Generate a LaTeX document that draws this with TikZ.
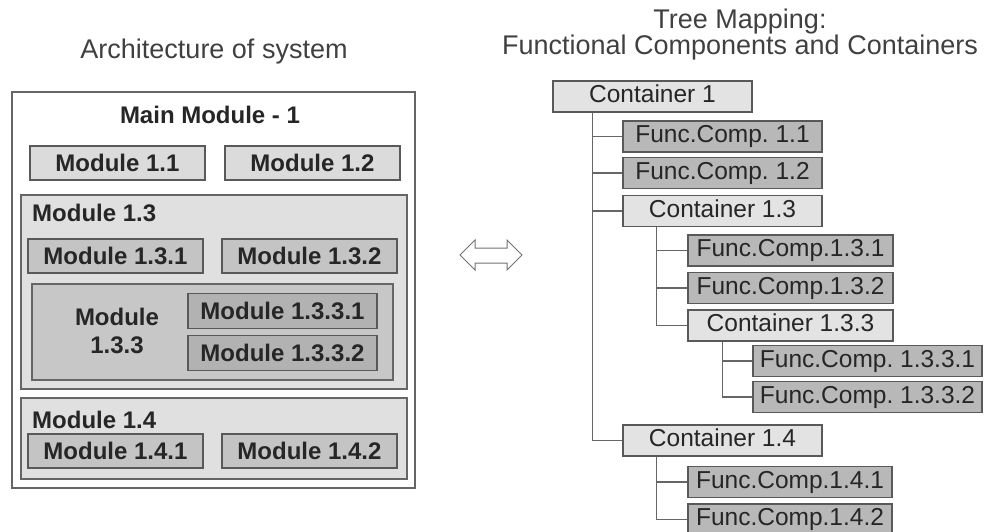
\documentclass[tikz,border=0pt]{standalone}
\usepackage{fontspec}
\setmainfont{Liberation Sans}
\frenchspacing
\begin{document}
\begin{tikzpicture}[x=1pt, y=-1pt,
        every node/.style={inner sep=0pt, text=black!85},
        title/.style={font=\fontsize{27}{26}\selectfont, text=black!75},
        bold/.style={font=\fontsize{24}{28}\selectfont\bfseries},
        group/.style={draw=black!60, line width=1.5pt, fill=black!12},
        mod/.style={draw=black!65, line width=1.5pt, bold, minimum width=175pt, minimum height=34pt},
        cont/.style={draw=black!65, line width=1.3pt, fill=black!11, minimum height=31pt,
            font=\fontsize{24.5}{28}\selectfont, text height=17pt, text depth=5pt},
        func/.style={cont, fill=black!28},
        link/.style={draw=black!60, line width=1.3pt}
    ]
    \useasboundingbox (0,0) rectangle (984,531);

    \node[title] (archtitle) at (214,52) {Architecture of system};
    \node[title, align=center] (treetitle) at (740,35) {Tree Mapping:\\Functional Components and Containers};

    \node[draw=black!60, line width=1.5pt, fill=white, minimum width=403pt, minimum height=396pt] (m1) at (213.5,290) {};
    \node[bold] (m1label) at (210,115) {Main Module - 1};
    \node[mod, fill=black!14] (m11) at (117.5,163) {Module 1.1};
    \node[mod, fill=black!14] (m12) at (312.5,163) {Module 1.2};

    \node[group, minimum width=386pt, minimum height=194pt] (m13) at (214,292) {};
    \node[bold, anchor=west] (m13label) at (32,213) {Module 1.3};
    \node[mod, fill=black!23] (m131) at (115.5,256) {Module 1.3.1};
    \node[mod, fill=black!23] (m132) at (309.5,256) {Module 1.3.2};
    \node[group, fill=black!22, minimum width=361pt, minimum height=96pt] (m133) at (212.5,332) {};
    \node[bold, align=center] (m133label) at (117,331) {Module\\1.3.3};
    \node[mod, fill=black!30, minimum width=189pt, minimum height=35pt] (m1331) at (282.5,311) {Module 1.3.3.1};
    \node[mod, fill=black!30, minimum width=189pt, minimum height=35pt] (m1332) at (282.5,353) {Module 1.3.3.2};

    \node[group, minimum width=386pt, minimum height=81pt] (m14) at (214,438.5) {};
    \node[bold, anchor=west] (m14label) at (32,420) {Module 1.4};
    \node[mod, fill=black!23] (m141) at (115.5,451) {Module 1.4.1};
    \node[mod, fill=black!23] (m142) at (309.5,451) {Module 1.4.2};

    \draw[draw=black!55, fill=white, line width=1pt]
        (460,255) -- (475,240) -- (475,248) -- (507,248) -- (507,240) -- (522,255)
        -- (507,270) -- (507,263) -- (475,263) -- (475,270) -- cycle;

    \node[cont, minimum width=199pt] (c1) at (652.5,96.5) {Container 1};
    \node[func, minimum width=199pt] (f11) at (722.5,136.5) {Func.Comp. 1.1};
    \node[func, minimum width=199pt] (f12) at (722.5,173) {Func.Comp. 1.2};
    \node[cont, minimum width=199pt] (c13) at (722.5,211) {Container 1.3};
    \node[func, minimum width=205pt] (f131) at (790.5,250.5) {Func.Comp.1.3.1};
    \node[func, minimum width=205pt] (f132) at (790.5,288) {Func.Comp.1.3.2};
    \node[cont, minimum width=205pt] (c133) at (790.5,325.5) {Container 1.3.3};
    \node[func, minimum width=229pt] (f1331) at (867.5,361) {Func.Comp. 1.3.3.1};
    \node[func, minimum width=229pt] (f1332) at (867.5,397) {Func.Comp. 1.3.3.2};
    \node[cont, minimum width=199pt] (c14) at (722.5,440.5) {Container 1.4};
    \node[func, minimum width=204pt] (f141) at (790,482) {Func.Comp.1.4.1};
    \node[func, minimum width=204pt] (f142) at (790,519.5) {Func.Comp.1.4.2};

    \draw[link]
        ([xshift=40pt]c1.south west) |- (f11.west)
        ([xshift=40pt]c1.south west) |- (f12.west)
        ([xshift=40pt]c1.south west) |- (c13.west)
        ([xshift=40pt]c1.south west) |- (c14.west)
        ([xshift=34pt]c13.south west) |- (f131.west)
        ([xshift=34pt]c13.south west) |- (f132.west)
        ([xshift=34pt]c13.south west) |- (c133.west)
        ([xshift=35pt]c133.south west) |- (f1331.west)
        ([xshift=35pt]c133.south west) |- (f1332.west)
        ([xshift=34pt]c14.south west) |- (f141.west)
        ([xshift=34pt]c14.south west) |- (f142.west)
    ;
\end{tikzpicture}
\end{document}
